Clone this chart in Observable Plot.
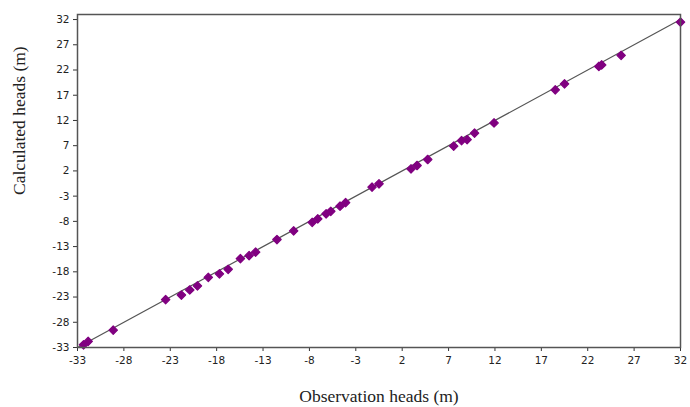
<!DOCTYPE html>
<html>
<head>
<meta charset="utf-8">
<script src="https://cdn.jsdelivr.net/npm/d3@7"></script>
<script src="https://cdn.jsdelivr.net/npm/@observablehq/plot@0.6"></script>
<style>
  html, body { margin: 0; padding: 0; background: #fff; }
</style>
</head>
<body>
<div id="chart"></div>
<script>
// Observation heads (m)
const observed = [-32.35, -31.85, -29.15, -23.5, -21.8, -20.9, -20.07, -18.9, -17.7, -16.76,
  -15.44, -14.5, -13.8, -11.5, -9.7, -7.7, -7.1, -6.2, -5.7, -4.7, -4.1,
  -1.25, -0.5, 2.95, 3.6, 4.75, 7.55, 8.4, 9.0, 9.8, 11.9,
  18.5, 19.5, 23.2, 23.5, 25.6, 32.0];
// Calculated heads (m)
const calculated = [-32.46, -31.8, -29.57, -23.5, -22.6, -21.6, -20.8, -19.1, -18.4, -17.5,
  -15.4, -14.8, -14.1, -11.6, -9.9, -8.2, -7.5, -6.5, -6.0, -5.0, -4.3,
  -1.2, -0.55, 2.4, 3.07, 4.26, 6.9, 8.0, 8.2, 9.5, 11.5,
  18.07, 19.26, 22.7, 23.0, 24.9, 31.5];
// 1:1 reference line end points
const lineEnds = [-33, 32];
// tick labels
const xTicks = [-33, -28, -23, -18, -13, -8, -3, 2, 7, 12, 17, 22, 27, 32];
const yTicks = [-33, -28, -23, -18, -13, -8, -3, 2, 7, 12, 17, 22, 27, 32];
const xDomain = [-33, 32];
const yDomain = [-33, 33];
const xTitle = "Observation heads (m)";
const yTitle = "Calculated heads (m)";

const points = observed.map((v, i) => ({obs: v, calc: calculated[i]}));
const line = lineEnds.map(v => ({obs: v, calc: v}));

const tickFont = "DejaVu Sans, Verdana, sans-serif";
const titleFont = "Liberation Serif, Times New Roman, serif";
const fmt = d => String(d);

const chart = Plot.plot({
  width: 690,
  height: 407,
  marginLeft: 77,
  marginRight: 10,
  marginTop: 14,
  marginBottom: 60,
  style: {background: "#fff", color: "#222"},
  x: {domain: xDomain},
  y: {domain: yDomain},
  marks: [
    Plot.axisX({ticks: xTicks, tickFormat: fmt, tickSize: 4, tickPadding: 5, label: null,
      fontFamily: tickFont, fontSize: 10.5, stroke: "#333"}),
    Plot.axisY({ticks: yTicks, tickFormat: fmt, tickSize: 4, tickPadding: 4, label: null,
      fontFamily: tickFont, fontSize: 10.5, stroke: "#333"}),
    Plot.line(line, {x: "obs", y: "calc", stroke: "#555", strokeWidth: 1.2}),
    Plot.dot(points, {x: "obs", y: "calc", symbol: "diamond2", r: 3.8, fill: "#800080", stroke: "#800080", strokeWidth: 1.2, strokeLinejoin: "round"}),
    Plot.frame({stroke: "#555", strokeWidth: 1.5}),
    Plot.text([xTitle], {frameAnchor: "bottom", dy: 54, text: d => d,
      fontFamily: titleFont, fontSize: 17.5, fill: "#222"}),
    Plot.text([yTitle], {frameAnchor: "left", dx: -58, dy: 14, rotate: -90, text: d => d,
      fontFamily: titleFont, fontSize: 17.5, fill: "#222"})
  ]
});
document.getElementById("chart").appendChild(chart);
</script>
</body>
</html>
